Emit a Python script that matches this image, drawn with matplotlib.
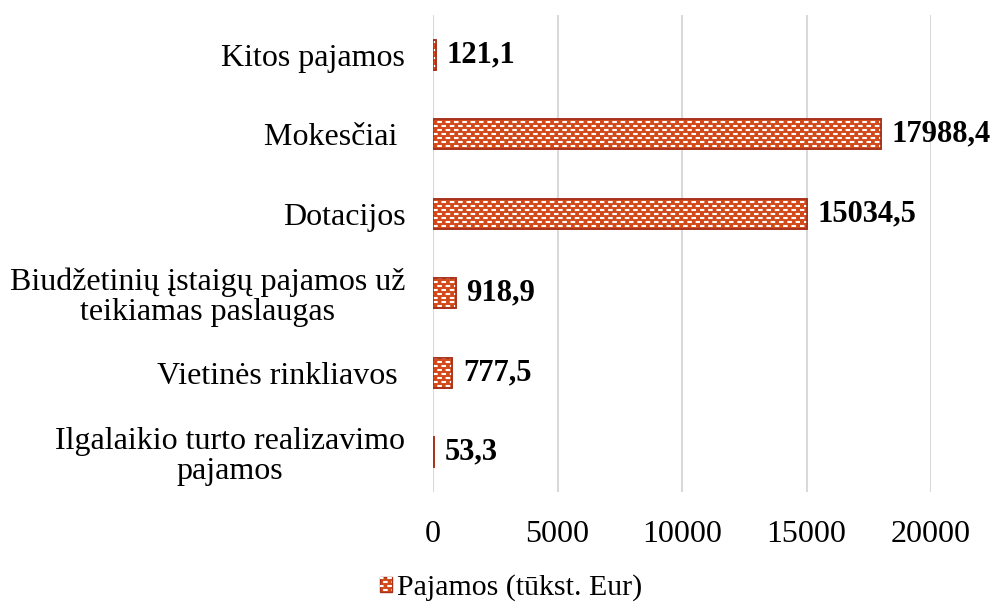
import matplotlib
matplotlib.use("Agg")
import matplotlib.pyplot as plt
import matplotlib.hatch as mhatch
from matplotlib.path import Path
from matplotlib.patches import Patch
from matplotlib.legend_handler import HandlerTuple

categories = [
    "Ilgalaikio turto realizavimo\npajamos",
    "Vietinės rinkliavos ",
    "Biudžetinių įstaigų pajamos už\nteikiamas paslaugas",
    "Dotacijos",
    "Mokesčiai ",
    "Kitos pajamos",
]
values = [53.3, 777.5, 918.9, 15034.5, 17988.4, 121.1]
value_labels = ["53,3", "777,5", "918,9", "15034,5", "17988,4", "121,1"]
xticks = [0, 5000, 10000, 15000, 20000]
series_name = "Pajamos (tūkst. Eur)"


# Custom "brick" hatch replacing the horizontal '-' hatch
class BrickHatch(mhatch.HatchPatternBase):
    def __init__(self, hatch, density):
        n = hatch.count('-')
        self.segs = []
        if n:
            rows = 25
            cols = 12
            for i in range(rows):
                yy = (i + 0.5) / rows
                off = 0.5 * (i % 2)
                for j in range(cols):
                    x0 = (j + 0.1 + off) / cols
                    x1 = x0 + 0.3 / cols
                    self.segs.append(((x0, yy), (x1, yy)))
        self.num_vertices = 2 * len(self.segs)

    def set_vertices_and_codes(self, vertices, codes):
        for k, (a, b) in enumerate(self.segs):
            vertices[2 * k] = a
            vertices[2 * k + 1] = b
            codes[2 * k] = Path.MOVETO
            codes[2 * k + 1] = Path.LINETO


mhatch._hatch_types = [BrickHatch if t is mhatch.HorizontalHatch else t
                       for t in mhatch._hatch_types]

plt.rcParams['font.family'] = ['Liberation Serif', 'DejaVu Serif']
plt.rcParams['hatch.linewidth'] = 1.5

fill = "#D24A1A"
edge = "#A8321B"

fig = plt.figure(figsize=(9.95, 6.05), dpi=100)
ax = fig.add_axes([433/995, 1-492/605, (931-433)/995, (492-15)/605])

y = list(range(len(categories)))
ax.barh(y, values, height=0.38, color=fill, edgecolor=edge, linewidth=1.2, zorder=2)
ax.barh(y, values, height=0.38, color="none", edgecolor="white", hatch="-", linewidth=0, zorder=3)
ax.barh(y, values, height=0.38, color="none", edgecolor=edge, linewidth=1.2, zorder=4)

for yi, v, lab in zip(y, values, value_labels):
    ax.annotate(lab, (v, yi), xytext=(7.5, 0), textcoords="offset points",
                va="center", ha="left", fontsize=22, fontweight="bold", annotation_clip=False)

ax.set_xlim(0, 20000)
ax.set_ylim(-0.5, len(categories) - 0.5)
ax.set_xticks(xticks)
ax.set_xticklabels([str(t) for t in xticks])
ax.set_yticks(y)
ax.set_yticklabels(categories, multialignment="center", linespacing=1.05)
ax.tick_params(axis="x", length=0, labelsize=23, pad=20)
ax.tick_params(axis="y", length=0, labelsize=23, pad=20)
ax.grid(axis="x", color="#D9D9D9", linewidth=1.5, zorder=0)
ax.set_axisbelow(True)
for s in ax.spines.values():
    s.set_visible(False)

h_base = Patch(facecolor=fill, edgecolor=edge, linewidth=1.0)
h_hatch = Patch(facecolor="none", edgecolor="white", hatch="-", linewidth=0)
fig.legend(handles=[(h_base, h_hatch)], labels=[series_name], loc="center",
           bbox_to_anchor=(511/995, 1-588/605), frameon=False, fontsize=21.5,
           handlelength=0.42, handleheight=0.42, handletextpad=0.15,
           handler_map={tuple: HandlerTuple(ndivide=1, pad=0)})

fig.savefig("out.png", dpi=100)
